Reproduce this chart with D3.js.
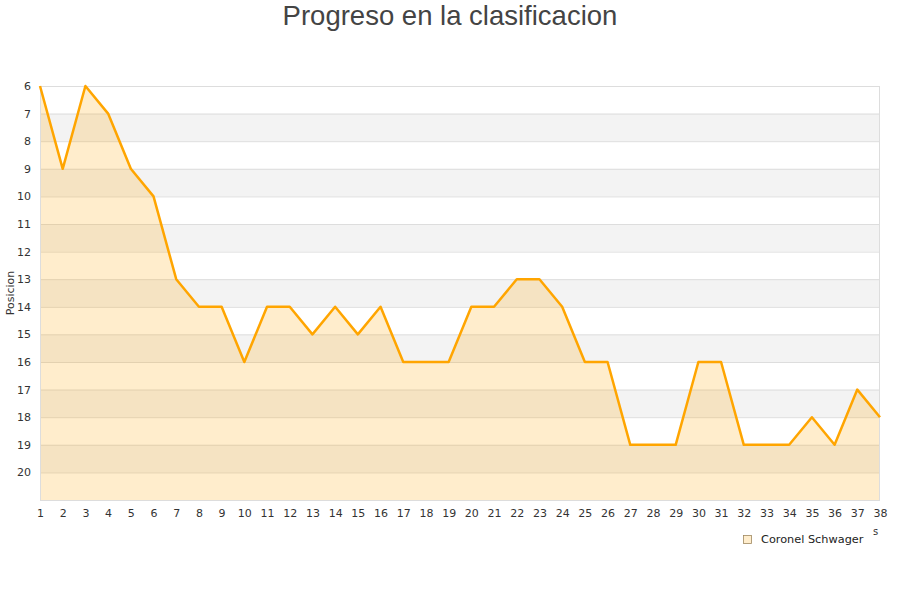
<!DOCTYPE html>
<html><head><meta charset="utf-8">
<script src="https://cdn.jsdelivr.net/npm/d3@7"></script>
<style>body{margin:0;background:#fff}svg{display:block}</style>
</head><body>
<svg id="c" width="900" height="600"></svg>
<script>
const jornadas = d3.range(1, 39);
const posiciones = [6,9,6,7,9,10,13,14,14,16,14,14,15,14,15,14,16,16,16,14,14,13,13,14,16,16,19,19,19,16,16,19,19,19,18,19,17,18];
const yTicks = [6,7,8,9,10,11,12,13,14,15,16,17,18,19,20];
const seriesName = "Coronel Schwager";
const titleText = "Progreso en la clasificacion";
const yTitle = "Posicion";

const svg = d3.select("#c");
const L = 40, R = 880, T = 86, B = 500;
const x = d3.scaleLinear().domain([1, 38]).range([L, R]);
const y = d3.scaleLinear().domain([6, 21]).range([T, B]);

// bands
const bands = d3.range(6, 21);
svg.selectAll("rect.band").data(bands).enter().append("rect")
  .attr("x", L).attr("width", R - L)
  .attr("y", d => y(d)).attr("height", d => y(d + 1) - y(d))
  .attr("fill", d => (d % 2 === 1) ? "#f3f3f3" : "#ffffff");

// grid
svg.selectAll("line.grid").data(yTicks).enter().append("line")
  .attr("x1", L).attr("x2", R).attr("y1", d => y(d) + 0.5).attr("y2", d => y(d) + 0.5)
  .attr("stroke", "#dddddd").attr("stroke-width", 1);

const data = jornadas.map((j, i) => ({j, p: posiciones[i]}));
svg.append("path").datum(data)
  .attr("d", d3.area().x(d => x(d.j)).y0(B).y1(d => y(d.p)))
  .attr("fill", "rgba(255,165,0,0.2)");

// frame
svg.append("rect").attr("x", L + 0.5).attr("y", T + 0.5).attr("width", R - L - 1).attr("height", B - T)
  .attr("fill", "none").attr("stroke", "#dddddd");

svg.append("path").datum(data)
  .attr("d", d3.line().x(d => x(d.j)).y(d => y(d.p)))
  .attr("fill", "none").attr("stroke", "#ffa500").attr("stroke-width", 2.5).attr("stroke-linejoin", "round");

// y axis labels
const yAxis = d3.axisLeft(y).tickValues(yTicks).tickSize(0).tickPadding(9);
const gy = svg.append("g").attr("transform", `translate(${L},0)`).call(yAxis);
gy.select(".domain").remove();
gy.selectAll("text").attr("font-family", "DejaVu Sans").attr("font-size", 11).attr("fill", "#333");

const xAxis = d3.axisBottom(x).tickValues(jornadas).tickSize(0).tickPadding(9);
const gx = svg.append("g").attr("transform", `translate(0,${B})`).call(xAxis);
gx.select(".domain").remove();
gx.selectAll("text").attr("font-family", "DejaVu Sans").attr("font-size", 11).attr("fill", "#333");

svg.append("text").attr("transform", `translate(14,293) rotate(-90)`)
  .attr("text-anchor", "middle").attr("font-family", "DejaVu Sans").attr("font-size", 11).attr("fill", "#333")
  .text(yTitle);

svg.append("text").attr("x", 450).attr("y", 25).attr("text-anchor", "middle")
  .attr("font-family", "Liberation Sans, Arial, sans-serif").attr("font-size", 27.5).attr("fill", "#444")
  .text(titleText);

svg.append("text").attr("x", 873).attr("y", 535).attr("font-family", "DejaVu Sans").attr("font-size", 10).attr("fill", "#333").text("s");

// legend
svg.append("rect").attr("x", 743.5).attr("y", 535.5).attr("width", 8).attr("height", 8)
  .attr("fill", "#ffedcc").attr("stroke", "#a08860").attr("stroke-width", 0.8);
svg.append("text").attr("x", 761).attr("y", 543).attr("font-family", "DejaVu Sans").attr("font-size", 11.3).attr("fill", "#222")
  .text(seriesName);
</script>
</body></html>
